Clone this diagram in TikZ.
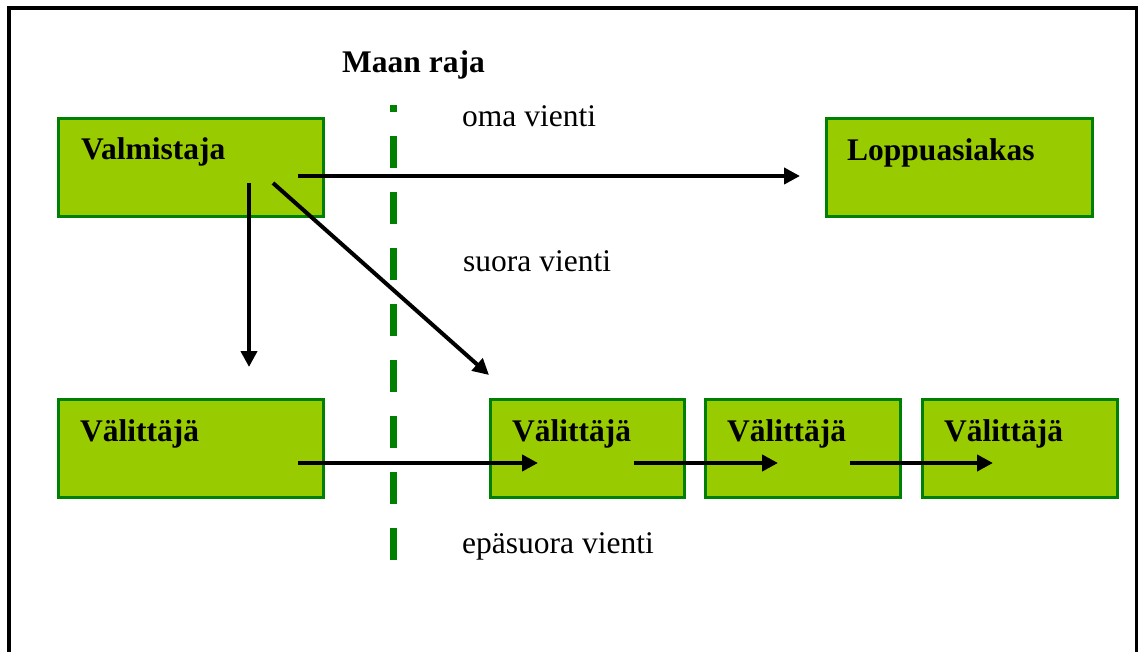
\documentclass[tikz,border=0pt]{standalone}
\usepackage{fontspec}
\setmainfont{Liberation Serif}
\usetikzlibrary{arrows.meta}
\definecolor{boxfill}{HTML}{99CC00}
\definecolor{boxline}{HTML}{008000}
\tikzset{
  box/.style={draw=boxline, fill=boxfill, line width=3pt, inner sep=0pt, anchor=north west},
  btext/.style={inner sep=0pt, anchor=base west, font=\fontsize{31.5}{36}\selectfont\bfseries},
  ptext/.style={inner sep=0pt, anchor=base west, font=\fontsize{31.5}{36}\selectfont},
  arr/.style={line width=4pt, -{Triangle[length=16pt,width=16pt]}},
  border/.style={draw=boxline, line width=7.5pt, dash pattern=on 32pt off 24pt, dash phase=25pt}
}
\begin{document}
\begin{tikzpicture}[x=1pt,y=-1pt]
\useasboundingbox (0,0) rectangle (1138,652);
\clip (0,0) rectangle (1138,652);
\fill[white] (0,0) rectangle (1138,652);
\draw[line width=4pt] (9,8) rectangle (1136.5,720);
% boxes
\node[box, minimum width=265pt, minimum height=98pt] (valm) at (57,117) {};
\node[box, minimum width=266pt, minimum height=98pt] (lopp) at (825,117) {};
\node[box, minimum width=265pt, minimum height=98pt] (v1) at (57,398) {};
\node[box, minimum width=194pt, minimum height=98pt] (v2) at (489,398) {};
\node[box, minimum width=195pt, minimum height=98pt] (v3) at (704,398) {};
\node[box, minimum width=195pt, minimum height=98pt] (v4) at (921,398) {};
% texts
\node[btext] (tvalm) at (81,160) {Valmistaja};
\node[btext] (tlopp) at (847,161) {Loppuasiakas};
\node[btext] (tv1) at (80,441) {Välittäjä};
\node[btext] (tv2) at (512,441) {Välittäjä};
\node[btext] (tv3) at (727,441) {Välittäjä};
\node[btext] (tv4) at (944,441) {Välittäjä};
\node[btext] (maan) at (342,73) {Maan raja};
\node[ptext] (oma) at (462,127) {oma vienti};
\node[ptext] (suora) at (463,272) {suora vienti};
\node[ptext] (epa) at (462,553) {epäsuora vienti};
% border line
\coordinate (rtop) at (393.5,105);
\coordinate (rbot) at (393.5,560);
\draw[border] (rtop) -- (rbot);
% arrow anchors
\coordinate (aoS) at (298,176);
\coordinate (aoE) at (800,176);
\coordinate (avS) at (249,183);
\coordinate (avE) at (249,367);
\coordinate (adS) at (273,183);
\coordinate (adE) at (489,375);
\coordinate (b1S) at (298,463);
\coordinate (b1E) at (538,463);
\coordinate (b2S) at (634,463);
\coordinate (b2E) at (778,463);
\coordinate (b3S) at (850,463);
\coordinate (b3E) at (993,463);
\draw[arr] (aoS) -- (aoE);
\draw[arr] (avS) -- (avE);
\draw[arr] (adS) -- (adE);
\draw[arr] (b1S) -- (b1E);
\draw[arr] (b2S) -- (b2E);
\draw[arr] (b3S) -- (b3E);
\end{tikzpicture}
\end{document}
